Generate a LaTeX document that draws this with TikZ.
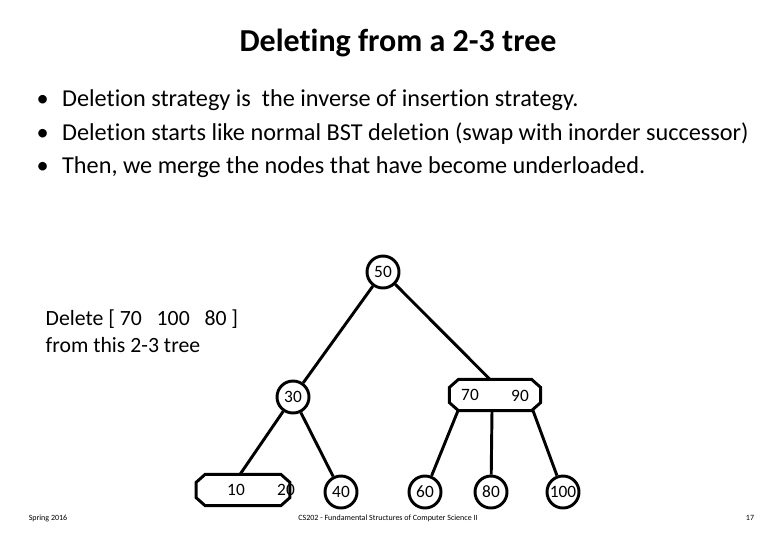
\documentclass[tikz,border=0pt]{standalone}
\usepackage{fontspec}
\setmainfont[Ligatures=NoCommon]{Carlito}
\usetikzlibrary{calc}
\begin{document}
\begin{tikzpicture}[x=0.75pt,y=-0.75pt,
 cnode/.style={circle,draw,line width=2.2pt,minimum size=24pt,inner sep=0pt,font=\fontsize{13}{15}\selectfont},
 bnode/.style={rectangle,inner sep=0pt},
 chamf/.style={line width=2.2pt},
 lab/.style={font=\fontsize{13}{15}\selectfont},
 edge/.style={line width=2.2pt},
 foot/.style={font=\fontsize{6}{7}\selectfont},
 body/.style={anchor=west,font=\fontsize{18.2}{22}\selectfont}]
\useasboundingbox (0,0) rectangle (780,540);
\node[font=\bfseries\fontsize{24}{28}\selectfont] (title) at (398,43) {Deleting from a 2-3 tree};
\node[body] (b1) at (32,100) {\textbullet\hspace{10pt}Deletion strategy is\ \ the inverse of insertion strategy.};
\node[body] (b2) at (32,134) {\textbullet\hspace{10pt}Deletion starts like normal BST deletion (swap with inorder successor)};
\node[body] (b3) at (32,167) {\textbullet\hspace{10pt}Then, we merge the nodes that have become underloaded.};
\node[align=left,anchor=west,font=\fontsize{16.3}{20}\selectfont] (del) at (41,331) {Delete [ 70\ \ \ 100\ \ \ 80 ]\\from this 2-3 tree};
% tree
\node[cnode] (n50) at (383,272) {50};
\node[cnode] (n30) at (293,397) {30};
\node[bnode,minimum width=68pt,minimum height=23pt] (n7090) at (495,395) {};
\node[lab] (l70) at (470,395) {70};
\node[lab] (l90) at (520,396) {90};
\node[bnode,minimum width=70pt,minimum height=23pt] (n1020) at (243,490) {};
\node[lab] (l10) at (236,490) {10};
\node[lab] (l20) at (286,490) {20};
\foreach \n in {n7090,n1020}{
 \draw[chamf] ($(\n.north west)+(9,0)$) -- ($(\n.north east)+(-9,0)$) -- ($(\n.north east)+(0,8)$) -- ($(\n.south east)+(0,-8)$) -- ($(\n.south east)+(-9,0)$) -- ($(\n.south west)+(9,0)$) -- ($(\n.south west)+(0,-8)$) -- ($(\n.north west)+(0,8)$) -- cycle;
}
\node[cnode] (n40) at (341,492) {40};
\node[cnode] (n60) at (425,492) {60};
\node[cnode] (n80) at (491,492) {80};
\node[cnode] (n100) at (563,492) {100};
\draw[edge] (n50) -- (n30);
\draw[edge] (n50) -- (n7090.north -| 490,0);
\draw[edge] (n30) -- (n1020.north -| 240,0);
\draw[edge] (n30) -- (n40);
\draw[edge] (n7090.south -| 458,0) -- (n60);
\draw[edge] (n7090.south -| 492,0) -- (n80);
\draw[edge] (n7090.south -| 533,0) -- (n100);
% footer
\node[foot] (f1) at (48,518) {Spring 2016};
\node[foot] (f2) at (388,518) {CS202 - Fundamental Structures of Computer Science II};
\node[foot] (f3) at (750,518) {17};
\end{tikzpicture}
\end{document}
